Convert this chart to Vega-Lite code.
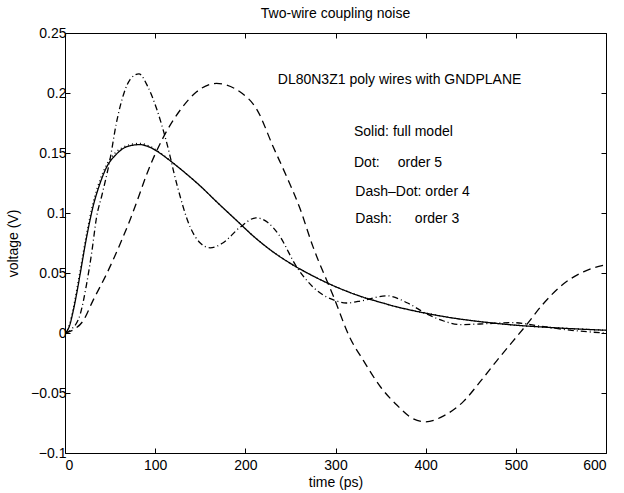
{
  "$schema": "https://vega.github.io/schema/vega-lite/v6.json",
  "width": 541,
  "height": 420,
  "autosize": {"type": "none"},
  "padding": {"left": 65, "top": 33, "right": 18, "bottom": 40},
  "background": "white",
  "config": {
    "font": "Liberation Sans",
    "view": {"stroke": "black", "strokeWidth": 1},
    "axis": {
      "grid": false,
      "domain": false,
      "tickColor": "black",
      "tickSize": -5,
      "labelColor": "black",
      "titleColor": "black",
      "labelFontSize": 14,
      "titleFontSize": 14,
      "titleFontWeight": "normal",
      "labelFont": "Liberation Sans",
      "titleFont": "Liberation Sans"
    }
  },
  "title": {
    "text": "Two-wire coupling noise",
    "fontSize": 14,
    "fontWeight": "normal",
    "font": "Liberation Sans",
    "color": "black",
    "anchor": "middle",
    "offset": 5
  },
  "datasets": {
    "curves": [
      {"model": "solid", "t": 0, "v": 0},
      {"model": "solid", "t": 5, "v": 0.006},
      {"model": "solid", "t": 9, "v": 0.018},
      {"model": "solid", "t": 13, "v": 0.033},
      {"model": "solid", "t": 17, "v": 0.05},
      {"model": "solid", "t": 24, "v": 0.08},
      {"model": "solid", "t": 31, "v": 0.105},
      {"model": "solid", "t": 39, "v": 0.125},
      {"model": "solid", "t": 46, "v": 0.138},
      {"model": "solid", "t": 57, "v": 0.149},
      {"model": "solid", "t": 65, "v": 0.154},
      {"model": "solid", "t": 72, "v": 0.156},
      {"model": "solid", "t": 83, "v": 0.157},
      {"model": "solid", "t": 95, "v": 0.1545},
      {"model": "solid", "t": 105, "v": 0.15},
      {"model": "solid", "t": 115, "v": 0.1445},
      {"model": "solid", "t": 130, "v": 0.1355},
      {"model": "solid", "t": 150, "v": 0.1225},
      {"model": "solid", "t": 170, "v": 0.108},
      {"model": "solid", "t": 190, "v": 0.094},
      {"model": "solid", "t": 210, "v": 0.08},
      {"model": "solid", "t": 230, "v": 0.068},
      {"model": "solid", "t": 250, "v": 0.058},
      {"model": "solid", "t": 270, "v": 0.0495},
      {"model": "solid", "t": 290, "v": 0.042},
      {"model": "solid", "t": 310, "v": 0.0355},
      {"model": "solid", "t": 330, "v": 0.03},
      {"model": "solid", "t": 350, "v": 0.0255},
      {"model": "solid", "t": 375, "v": 0.0205},
      {"model": "solid", "t": 400, "v": 0.0165},
      {"model": "solid", "t": 430, "v": 0.0125},
      {"model": "solid", "t": 460, "v": 0.0095},
      {"model": "solid", "t": 500, "v": 0.0065},
      {"model": "solid", "t": 540, "v": 0.0045},
      {"model": "solid", "t": 570, "v": 0.0033},
      {"model": "solid", "t": 600, "v": 0.0023},

      {"model": "dot", "t": 0, "v": 0},
      {"model": "dot", "t": 5, "v": 0.007},
      {"model": "dot", "t": 9, "v": 0.02},
      {"model": "dot", "t": 13, "v": 0.036},
      {"model": "dot", "t": 17, "v": 0.053},
      {"model": "dot", "t": 24, "v": 0.083},
      {"model": "dot", "t": 31, "v": 0.108},
      {"model": "dot", "t": 39, "v": 0.128},
      {"model": "dot", "t": 46, "v": 0.14},
      {"model": "dot", "t": 57, "v": 0.151},
      {"model": "dot", "t": 65, "v": 0.155},
      {"model": "dot", "t": 72, "v": 0.157},
      {"model": "dot", "t": 83, "v": 0.158},
      {"model": "dot", "t": 95, "v": 0.1553},
      {"model": "dot", "t": 105, "v": 0.1505},
      {"model": "dot", "t": 115, "v": 0.1447},
      {"model": "dot", "t": 130, "v": 0.1355},
      {"model": "dot", "t": 150, "v": 0.1225},
      {"model": "dot", "t": 170, "v": 0.108},
      {"model": "dot", "t": 190, "v": 0.094},
      {"model": "dot", "t": 210, "v": 0.08},
      {"model": "dot", "t": 230, "v": 0.068},
      {"model": "dot", "t": 250, "v": 0.058},
      {"model": "dot", "t": 270, "v": 0.0495},
      {"model": "dot", "t": 290, "v": 0.042},
      {"model": "dot", "t": 310, "v": 0.0355},
      {"model": "dot", "t": 330, "v": 0.03},
      {"model": "dot", "t": 350, "v": 0.0255},
      {"model": "dot", "t": 375, "v": 0.0205},
      {"model": "dot", "t": 400, "v": 0.0165},
      {"model": "dot", "t": 430, "v": 0.0125},
      {"model": "dot", "t": 460, "v": 0.0095},
      {"model": "dot", "t": 500, "v": 0.0065},
      {"model": "dot", "t": 540, "v": 0.0045},
      {"model": "dot", "t": 570, "v": 0.0033},
      {"model": "dot", "t": 600, "v": 0.0023},

      {"model": "dashdot", "t": 0, "v": 0},
      {"model": "dashdot", "t": 7, "v": 0.003},
      {"model": "dashdot", "t": 17, "v": 0.016},
      {"model": "dashdot", "t": 24, "v": 0.041},
      {"model": "dashdot", "t": 30, "v": 0.069},
      {"model": "dashdot", "t": 35, "v": 0.0965},
      {"model": "dashdot", "t": 41, "v": 0.115},
      {"model": "dashdot", "t": 50, "v": 0.145},
      {"model": "dashdot", "t": 57, "v": 0.175},
      {"model": "dashdot", "t": 65, "v": 0.199},
      {"model": "dashdot", "t": 72, "v": 0.211},
      {"model": "dashdot", "t": 82, "v": 0.216},
      {"model": "dashdot", "t": 92, "v": 0.205},
      {"model": "dashdot", "t": 102, "v": 0.186},
      {"model": "dashdot", "t": 113, "v": 0.158},
      {"model": "dashdot", "t": 124, "v": 0.124},
      {"model": "dashdot", "t": 139, "v": 0.088},
      {"model": "dashdot", "t": 150, "v": 0.075},
      {"model": "dashdot", "t": 161, "v": 0.071},
      {"model": "dashdot", "t": 175, "v": 0.075},
      {"model": "dashdot", "t": 194, "v": 0.088},
      {"model": "dashdot", "t": 212, "v": 0.096},
      {"model": "dashdot", "t": 225, "v": 0.092},
      {"model": "dashdot", "t": 237, "v": 0.082},
      {"model": "dashdot", "t": 257, "v": 0.055},
      {"model": "dashdot", "t": 280, "v": 0.035},
      {"model": "dashdot", "t": 300, "v": 0.027},
      {"model": "dashdot", "t": 312, "v": 0.025},
      {"model": "dashdot", "t": 330, "v": 0.027},
      {"model": "dashdot", "t": 357, "v": 0.031},
      {"model": "dashdot", "t": 380, "v": 0.025},
      {"model": "dashdot", "t": 401, "v": 0.016},
      {"model": "dashdot", "t": 420, "v": 0.01},
      {"model": "dashdot", "t": 438, "v": 0.007},
      {"model": "dashdot", "t": 460, "v": 0.0075},
      {"model": "dashdot", "t": 497, "v": 0.0086},
      {"model": "dashdot", "t": 525, "v": 0.006},
      {"model": "dashdot", "t": 553, "v": 0.003},
      {"model": "dashdot", "t": 580, "v": 0.001},
      {"model": "dashdot", "t": 600, "v": 0},

      {"model": "dash", "t": 0, "v": 0},
      {"model": "dash", "t": 10, "v": 0.003},
      {"model": "dash", "t": 20, "v": 0.01},
      {"model": "dash", "t": 31, "v": 0.027},
      {"model": "dash", "t": 46, "v": 0.049},
      {"model": "dash", "t": 61, "v": 0.074},
      {"model": "dash", "t": 72, "v": 0.094},
      {"model": "dash", "t": 80, "v": 0.11},
      {"model": "dash", "t": 91, "v": 0.133},
      {"model": "dash", "t": 109, "v": 0.163},
      {"model": "dash", "t": 128, "v": 0.186},
      {"model": "dash", "t": 146, "v": 0.201},
      {"model": "dash", "t": 168, "v": 0.208},
      {"model": "dash", "t": 194, "v": 0.201},
      {"model": "dash", "t": 213, "v": 0.186},
      {"model": "dash", "t": 231, "v": 0.155},
      {"model": "dash", "t": 246, "v": 0.13},
      {"model": "dash", "t": 260, "v": 0.105},
      {"model": "dash", "t": 275, "v": 0.072},
      {"model": "dash", "t": 298, "v": 0.03},
      {"model": "dash", "t": 316, "v": -0.004},
      {"model": "dash", "t": 331, "v": -0.023},
      {"model": "dash", "t": 350, "v": -0.045},
      {"model": "dash", "t": 368, "v": -0.06},
      {"model": "dash", "t": 385, "v": -0.071},
      {"model": "dash", "t": 400, "v": -0.074},
      {"model": "dash", "t": 420, "v": -0.069},
      {"model": "dash", "t": 442, "v": -0.057},
      {"model": "dash", "t": 460, "v": -0.041},
      {"model": "dash", "t": 479, "v": -0.023},
      {"model": "dash", "t": 512, "v": 0.007},
      {"model": "dash", "t": 530, "v": 0.024},
      {"model": "dash", "t": 553, "v": 0.041},
      {"model": "dash", "t": 575, "v": 0.051},
      {"model": "dash", "t": 600, "v": 0.057}
    ],
    "notes": [
      {"t": 236, "v": 0.211, "label": "DL80N3Z1 poly wires with GNDPLANE"},
      {"t": 320.5, "v": 0.1676, "label": "Solid: full model"},
      {"t": 320.5, "v": 0.1417, "label": "Dot:"},
      {"t": 369, "v": 0.1417, "label": "order 5"},
      {"t": 322, "v": 0.1174, "label": "Dash\u2013Dot: order 4"},
      {"t": 322, "v": 0.0951, "label": "Dash:"},
      {"t": 388, "v": 0.0951, "label": "order 3"}
    ]
  },
  "layer": [
    {
      "data": {"name": "curves"},
      "mark": {"type": "line", "color": "black", "strokeWidth": 1.3, "interpolate": "monotone", "clip": true},
      "encoding": {
        "x": {
          "field": "t", "type": "quantitative",
          "scale": {"domain": [0, 600], "nice": false, "zero": false},
          "axis": {"values": [0, 100, 200, 300, 400, 500, 600], "title": "time (ps)", "labelPadding": 10, "titlePadding": 3, "orient": "bottom"}
        },
        "y": {
          "field": "v", "type": "quantitative",
          "scale": {"domain": [-0.1, 0.25], "nice": false, "zero": false},
          "axis": {"values": [-0.1, -0.05, 0, 0.05, 0.1, 0.15, 0.2, 0.25], "title": "voltage (V)", "labelPadding": 4, "titlePadding": 10, "orient": "left", "format": "~g", "labelExpr": "replace(datum.label, '-', '\u2212')"}
        },
        "detail": {"field": "model"},
        "strokeDash": {
          "field": "model", "type": "nominal",
          "scale": {"domain": ["solid", "dot", "dashdot", "dash"], "range": [[1, 0], [1, 3], [6, 3, 1, 3], [8, 5]]},
          "legend": null
        }
      }
    },
    {
      "data": {"name": "notes"},
      "mark": {"type": "text", "align": "left", "baseline": "middle", "fontSize": 14, "font": "Liberation Sans", "color": "black"},
      "encoding": {
        "x": {"field": "t", "type": "quantitative", "axis": null},
        "y": {"field": "v", "type": "quantitative", "axis": null},
        "text": {"field": "label"}
      }
    },
    {
      "data": {"name": "curves"},
      "mark": {"type": "point", "opacity": 0},
      "encoding": {
        "x": {"field": "t", "type": "quantitative", "axis": {"orient": "top", "values": [0, 100, 200, 300, 400, 500, 600], "labels": false, "title": null}},
        "y": {"field": "v", "type": "quantitative", "axis": {"orient": "right", "values": [-0.1, -0.05, 0, 0.05, 0.1, 0.15, 0.2, 0.25], "labels": false, "title": null}}
      }
    }
  ],
  "resolve": {"axis": {"x": "independent", "y": "independent"}}
}
